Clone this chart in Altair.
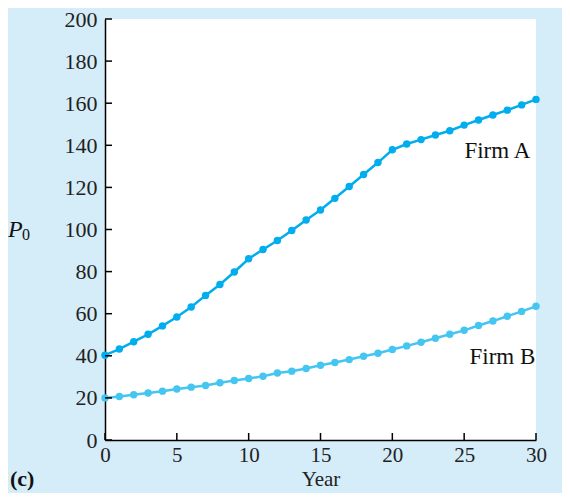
import altair as alt
import pandas as pd

years = list(range(0, 31))
firm_a = [40.3, 43.2, 46.7, 50.2, 54.2, 58.4, 63.2, 68.7, 73.9, 79.8, 86.1,
          90.5, 94.8, 99.5, 104.5, 109.3, 114.8, 120.4, 126.1, 131.8, 137.9,
          140.6, 142.7, 144.9, 146.9, 149.6, 152.0, 154.4, 156.7, 159.2, 161.8]
firm_b = [20.0, 20.7, 21.5, 22.3, 23.2, 24.2, 25.1, 25.9, 27.2, 28.3, 29.2,
          30.3, 31.8, 32.7, 34.0, 35.5, 36.8, 38.2, 39.8, 41.2, 43.0,
          44.7, 46.4, 48.3, 50.2, 52.1, 54.4, 56.5, 58.8, 61.1, 63.5]
y_ticks = list(range(0, 201, 20))
x_ticks = list(range(0, 31, 5))
label_names = ["Firm A", "Firm B"]
label_x = [29.6, 29.95]
label_y = [137.4, 39.5]

FONT = "Liberation Serif"
COL_A = "#00adee"
COL_B = "#45c6f1"
W, H = 431, 421

df = pd.DataFrame({
    "Year": years * 2,
    "P": firm_a + firm_b,
    "Firm": ["Firm A"] * len(years) + ["Firm B"] * len(years),
})

xs = alt.Scale(domain=[0, 30], nice=False)
ys = alt.Scale(domain=[0, 200], nice=False)

x_axis = alt.Axis(values=x_ticks, ticks=False, grid=False, domainColor="black",
                  domainWidth=1.5, labelFont=FONT, labelFontSize=21,
                  labelColor="#222", labelPadding=4, title="Year",
                  titleFont=FONT, titleFontSize=21, titleFontWeight="normal",
                  titleColor="#222", titlePadding=3, labelFlush=False)
y_axis = alt.Axis(values=y_ticks, ticks=False, grid=False, domainColor="black",
                  domainWidth=1.5, labelFont=FONT, labelFontSize=22,
                  labelColor="#222", labelPadding=8, title=None)

lines = alt.Chart(df).mark_line(
    strokeWidth=2.5, point=alt.OverlayMarkDef(size=55, filled=True, opacity=1)
).encode(
    x=alt.X("Year:Q", scale=xs, axis=x_axis),
    y=alt.Y("P:Q", scale=ys, axis=y_axis),
    color=alt.Color("Firm:N", scale=alt.Scale(domain=label_names, range=[COL_A, COL_B]),
                    legend=None),
)

labels = alt.Chart(pd.DataFrame({"name": label_names, "x": label_x, "y": label_y})).mark_text(
    align="right", baseline="middle", font=FONT, fontSize=23, color="#111"
).encode(x=alt.X("x:Q", scale=xs), y=alt.Y("y:Q", scale=ys), text="name:N")

yt = alt.Chart(pd.DataFrame({"v": y_ticks})).mark_rule(color="black", strokeWidth=1.5).encode(
    y=alt.Y("v:Q", scale=ys), x=alt.value(0), x2=alt.value(7))
xt = alt.Chart(pd.DataFrame({"v": x_ticks})).mark_rule(color="black", strokeWidth=1.5).encode(
    x=alt.X("v:Q", scale=xs), y=alt.value(H), y2=alt.value(H - 7))

p_lab = alt.Chart(pd.DataFrame({"t": ["P"]})).mark_text(
    align="left", baseline="middle", font=FONT, fontSize=24, fontStyle="italic", color="#111"
).encode(x=alt.value(-97), y=alt.value(211), text="t:N")
p_sub = alt.Chart(pd.DataFrame({"t": ["0"]})).mark_text(
    align="left", baseline="middle", font=FONT, fontSize=16, color="#111"
).encode(x=alt.value(-83), y=alt.value(216), text="t:N")
c_lab = alt.Chart(pd.DataFrame({"t": ["(c)"]})).mark_text(
    align="left", baseline="middle", font=FONT, fontSize=22, fontWeight="bold", color="#111"
).encode(x=alt.value(-95), y=alt.value(460), text="t:N")

chart = alt.layer(lines, labels, yt, xt, p_lab, p_sub, c_lab).properties(
    width=W, height=H,
    autosize=alt.AutoSizeParams(type="none"),
    padding={"left": 97, "top": 11, "right": 26, "bottom": 53},
    background="#d5ecf9",
).configure_view(fill="white", stroke=None)

chart.save("out.html", embed_options={"renderer": "svg", "actions": False})
